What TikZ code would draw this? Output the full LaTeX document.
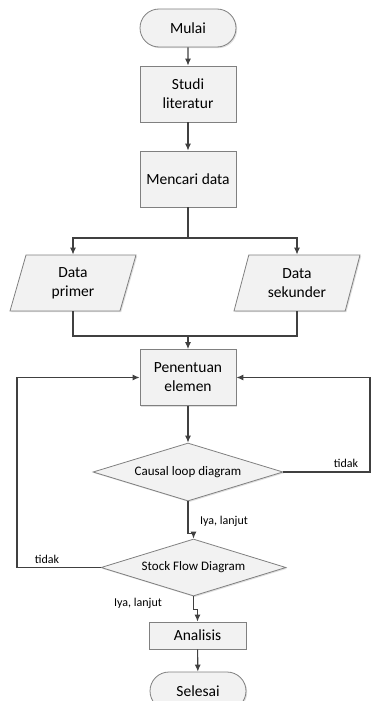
\documentclass[tikz,border=0pt]{standalone}
\usepackage{fontspec}
\setmainfont{Carlito}
\usepackage{tikz}
\usetikzlibrary{
  % node shapes for the flowchart
  shapes.geometric,%
  shapes.misc,%
  arrows.meta,%
  shadows,%
  positioning,
  calc
}
\definecolor{linegray}{RGB}{64,64,64}
\definecolor{boxgray}{RGB}{242,242,242}
\definecolor{edgegray}{RGB}{128,128,128}
\tikzset{>={Latex[length=7pt,width=6pt]}}
\tikzset{
  base/.style={draw=edgegray, fill=boxgray, line width=0.8pt, text=black,
    align=center, font=\fontsize{15.5}{19}\selectfont, inner sep=0pt,
    drop shadow={shadow xshift=1.2pt, shadow yshift=-1.2pt, fill=black!25}},
  terminal/.style={base, rounded rectangle, minimum width=96pt, minimum height=38pt},
  process/.style={base, rectangle, minimum width=96pt, minimum height=56pt},
  io/.style={base, trapezium, trapezium left angle=63, trapezium right angle=117,
    trapezium stretches body, minimum width=126pt, minimum height=56pt},
  decision/.style={base, diamond, aspect=3.3, font=\fontsize{13}{15}\selectfont,
    minimum width=190pt, minimum height=58pt},
  flow/.style={draw=linegray, line width=1.1pt},
  lbl/.style={font=\fontsize{12}{14}\selectfont, inner sep=0pt},
}

\begin{document}
\begin{tikzpicture}[x=1pt,y=-1pt]
  \useasboundingbox (0,0) rectangle (371,701);
  \node[terminal] (mulai) at (188,28) {Mulai};
  \node[process] (studi) at (188,94) {Studi\\literatur};
  \node[process] (cari) at (188,179) {Mencari data};
  \node[io] (primer) at (73,283) {Data\\primer};
  \node[io] (sekunder) at (297,283) {Data\\sekunder};
  \node[process] (tentu) at (188,377.5) {Penentuan\\elemen};
  \node[decision] (cld) at (188,472) {Causal loop diagram};
  \node[decision, minimum width=185pt, minimum height=57pt] (sfd) at (193.5,567.5) {Stock Flow Diagram};
  \node[process, minimum width=97pt, minimum height=27pt] (analisis) at (197.5,635.5) {Analisis};
  \node[terminal] (selesai) at (198,691) {Selesai};

  % corner points of the connectors
  \coordinate (bagi) at (188,238);
  \coordinate (gabung) at (188,336);
  \coordinate (kanan) at (370,472);
  \coordinate (kiri) at (17,567.5);

  \draw[flow,->] (mulai) -- (studi);
  \draw[flow,->] (studi) -- (cari);
  \draw[flow] (cari) -- (bagi);
  \foreach \n in {primer,sekunder}
    \draw[flow,->] (bagi) -| (\n.north);
  \foreach \n in {primer,sekunder}
    \draw[flow] (\n.south) |- (gabung);
  \draw[flow,->] (gabung) -- (tentu);
  \draw[flow,->] (tentu) -- (cld);
  \draw[flow,->] (cld.east) -- (kanan) |- (tentu.east);
  \node[lbl] (tidak1) at (346,463) {tidak};
  \draw[flow,->] (cld.south) -- ++(0,32) -| (sfd.north);
  \node[lbl] (iya1) at (224,521) {Iya, lanjut};
  \draw[flow,->] (sfd.west) -- (kiri) |- (tentu.west);
  \node[lbl] (tidak2) at (47,559) {tidak};
  \draw[flow,->] (sfd.south) -- ++(0,13) -| (analisis.north);
  \node[lbl] (iya2) at (138,603) {Iya, lanjut};
  \draw[flow,->] (analisis) -- (selesai);
\end{tikzpicture}
\end{document}
